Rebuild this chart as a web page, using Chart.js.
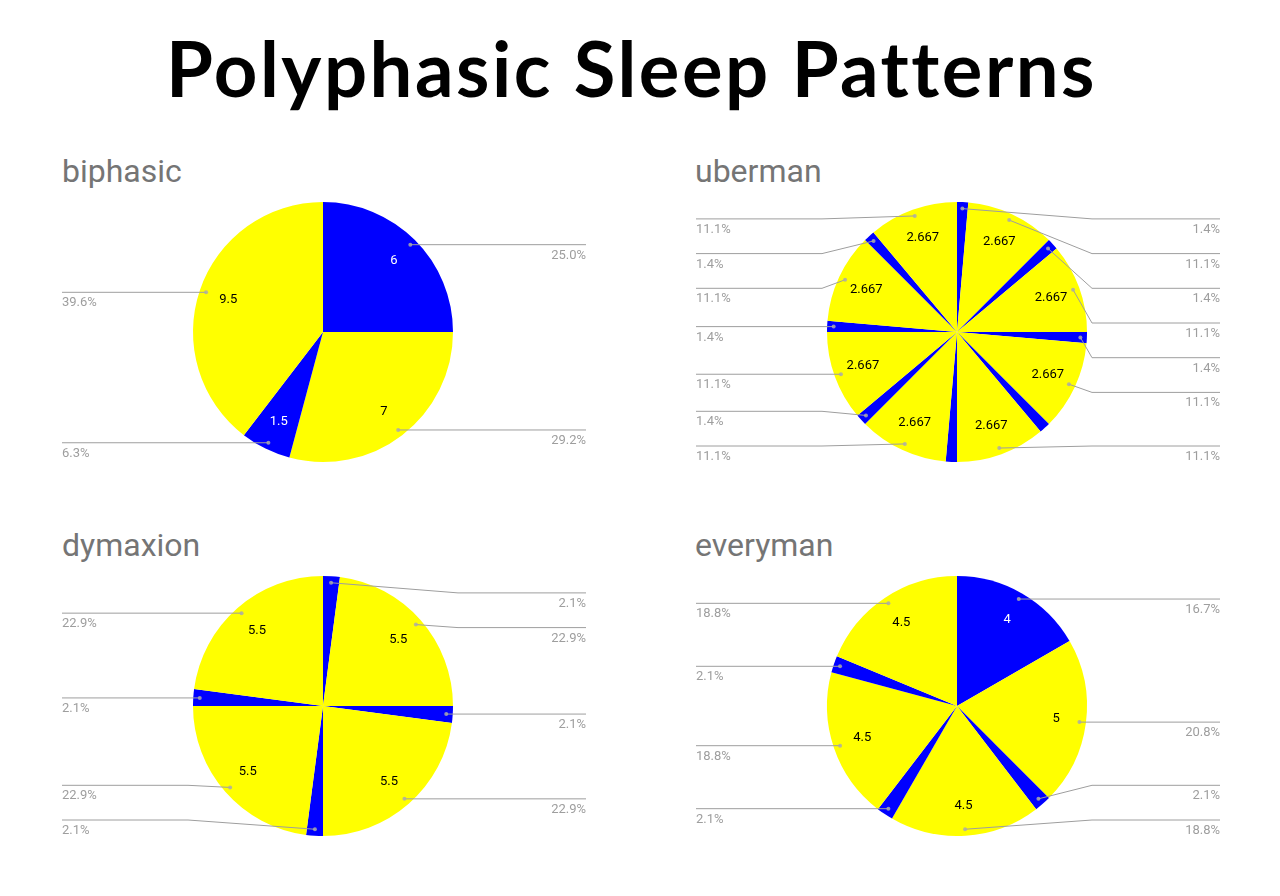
<!DOCTYPE html>
<html>
<head>
<meta charset="utf-8">
<script src="https://cdn.jsdelivr.net/npm/chart.js@4/dist/chart.umd.min.js"></script>
<style>
  html, body { margin: 0; padding: 0; background: #ffffff; }
  body { width: 1280px; height: 896px; position: relative; overflow: hidden; }
  #title { position: absolute; left: 166px; top: 22px; font-family: Lato, "Open Sans", sans-serif; font-weight: 700; font-size: 76px; letter-spacing: 2.5px; line-height: 1.2; color: #000; white-space: nowrap; }
  .sub { position: absolute; font-family: Roboto, sans-serif; font-size: 32px; line-height: normal; color: #757575; white-space: nowrap; }
  .wrap { position: absolute; width: 646px; height: 310px; }
  canvas { display: block; }
</style>
</head>
<body>
<div id="title">Polyphasic Sleep Patterns</div>
<script>
// ---------- data ----------
const chartNames = ['biphasic', 'uberman', 'dymaxion', 'everyman'];

const biphasicPhases = ['Sleep', 'Awake', 'Sleep', 'Awake'];
const biphasicHours  = [6, 7, 1.5, 9.5];

const ubermanPhases = ['Sleep', 'Awake', 'Sleep', 'Awake', 'Sleep', 'Awake', 'Sleep', 'Awake',
                       'Sleep', 'Awake', 'Sleep', 'Awake', 'Sleep', 'Awake', 'Sleep', 'Awake'];
const ubermanHours  = [0.333, 2.667, 0.333, 2.667, 0.333, 2.667, 0.333, 2.667,
                       0.333, 2.667, 0.333, 2.667, 0.333, 2.667, 0.333, 2.667];

const dymaxionPhases = ['Sleep', 'Awake', 'Sleep', 'Awake', 'Sleep', 'Awake', 'Sleep', 'Awake'];
const dymaxionHours  = [0.5, 5.5, 0.5, 5.5, 0.5, 5.5, 0.5, 5.5];

const everymanPhases = ['Sleep', 'Awake', 'Sleep', 'Awake', 'Sleep', 'Awake', 'Sleep', 'Awake'];
const everymanHours  = [4, 5, 0.5, 4.5, 0.5, 4.5, 0.5, 4.5];

const phaseColors = { Sleep: '#0000ff', Awake: '#ffff00' };
const phaseTextColors = { Sleep: '#ffffff', Awake: '#000000' };

// ---------- layout ----------
const panels = [
  { name: chartNames[0], phases: biphasicPhases, hours: biphasicHours, left: 0,   top: 177, subLeft: 62,  subTop: 152 },
  { name: chartNames[1], phases: ubermanPhases,  hours: ubermanHours,  left: 634, top: 177, subLeft: 695, subTop: 152 },
  { name: chartNames[2], phases: dymaxionPhases, hours: dymaxionHours, left: 0,   top: 551, subLeft: 62,  subTop: 526 },
  { name: chartNames[3], phases: everymanPhases, hours: everymanHours, left: 634, top: 551, subLeft: 695, subTop: 526 }
];

const labelPlugin = {
  id: 'sliceLabels',
  afterDatasetsDraw(chart) {
    const ctx = chart.ctx;
    const meta = chart.getDatasetMeta(0);
    const data = chart.data.datasets[0].data;
    const phases = chart.data.labels;
    const total = data.reduce((a, b) => a + b, 0);
    const items = meta.data.map((arc, i) => {
      const p = arc.getProps(['x', 'y', 'startAngle', 'endAngle', 'outerRadius'], true);
      const mid = (p.startAngle + p.endAngle) / 2;
      return {
        i, value: data[i], phase: phases[i], cx: p.x, cy: p.y, r: p.outerRadius, mid,
        span: p.endAngle - p.startAngle,
        dx: p.x + Math.cos(mid) * p.outerRadius * 0.95,
        dy: p.y + Math.sin(mid) * p.outerRadius * 0.95,
        right: Math.cos(mid) > 1e-9
      };
    });
    if (!items.length) return;
    const cx = items[0].cx, cy = items[0].cy, r = items[0].r;

    // value labels inside slices
    ctx.save();
    ctx.font = '13px Roboto';
    ctx.textAlign = 'center';
    ctx.textBaseline = 'middle';
    items.forEach(it => {
      if (it.span < 0.3) return;
      const tx = cx + Math.cos(it.mid) * r * 0.77;
      const ty = cy + Math.sin(it.mid) * r * 0.77;
      ctx.fillStyle = phaseTextColors[it.phase];
      ctx.fillText(String(it.value), tx, ty);
    });
    ctx.restore();

    // outside percentage labels with leader lines
    const topLim = cy - 0.87 * r;
    const botLim = cy + 0.877 * r;
    const gap = 34.7;
    const cap = Math.floor((botLim - topLim) / gap) + 1;
    [true, false].forEach(isRight => {
      let side = items.filter(it => it.right === isRight);
      while (side.length > cap) {
        let k = 0;
        for (let j = 1; j < side.length; j++) {
          const a = side[j], b = side[k];
          if (a.value < b.value || (a.value === b.value && a.dy > b.dy)) k = j;
        }
        side.splice(k, 1);
      }
      side.sort((a, b) => a.dy - b.dy);
      let prev = -Infinity;
      side.forEach(s => { s.ly = Math.max(s.dy, topLim, prev + gap); prev = s.ly; });
      let next = Infinity;
      for (let j = side.length - 1; j >= 0; j--) {
        side[j].ly = Math.min(side[j].ly, botLim, next - gap); next = side[j].ly;
      }
      const edgeX = isRight ? cx + 263 : cx - 261;
      const elbowX = isRight ? cx + r + 5 : cx - r - 5;
      side.forEach(s => {
        ctx.save();
        ctx.strokeStyle = '#9e9e9e';
        ctx.lineWidth = 1;
        ctx.beginPath();
        ctx.moveTo(s.dx, s.dy);
        if (Math.abs(s.ly - s.dy) > 0.5) ctx.lineTo(elbowX, s.ly);
        ctx.lineTo(edgeX, s.ly);
        ctx.stroke();
        ctx.fillStyle = 'rgba(170,170,170,0.85)';
        ctx.beginPath();
        ctx.arc(s.dx, s.dy, 2, 0, Math.PI * 2);
        ctx.fill();
        ctx.fillStyle = '#9e9e9e';
        ctx.font = '13px Roboto';
        ctx.textBaseline = 'alphabetic';
        ctx.textAlign = isRight ? 'right' : 'left';
        ctx.fillText((s.value / total * 100).toFixed(1) + '%', edgeX, s.ly + 14);
        ctx.restore();
      });
    });
  }
};

panels.forEach(p => {
  const sub = document.createElement('div');
  sub.className = 'sub';
  sub.style.left = p.subLeft + 'px';
  sub.style.top = p.subTop + 'px';
  sub.textContent = p.name;
  document.body.appendChild(sub);

  const wrap = document.createElement('div');
  wrap.className = 'wrap';
  wrap.style.left = p.left + 'px';
  wrap.style.top = p.top + 'px';
  const canvas = document.createElement('canvas');
  canvas.width = 646;
  canvas.height = 310;
  wrap.appendChild(canvas);
  document.body.appendChild(wrap);

  new Chart(canvas, {
    type: 'pie',
    data: {
      labels: p.phases,
      datasets: [{
        data: p.hours,
        backgroundColor: p.phases.map(ph => phaseColors[ph]),
        borderWidth: 0,
        hoverOffset: 0,
        offset: 0
      }]
    },
    options: {
      responsive: false,
      animation: false,
      events: [],
      layout: { padding: { left: 193, right: 193, top: 25, bottom: 25 } },
      plugins: {
        legend: { display: false },
        tooltip: { enabled: false },
        title: { display: false }
      }
    },
    plugins: [labelPlugin]
  });
});
</script>
</body>
</html>
